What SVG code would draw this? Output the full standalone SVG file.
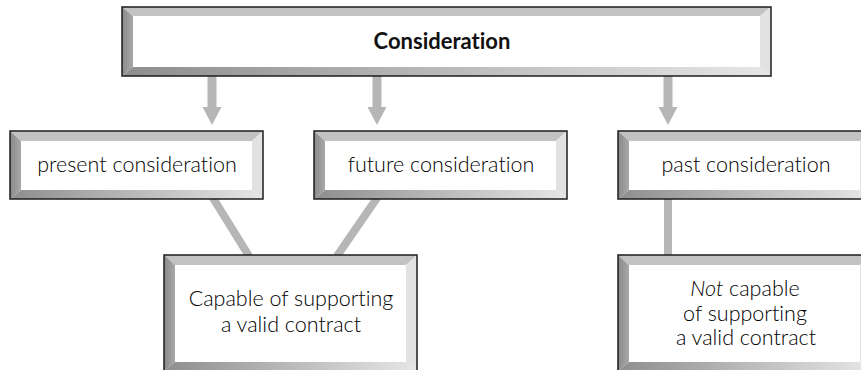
<svg xmlns="http://www.w3.org/2000/svg" width="861" height="370" viewBox="0 0 861 370">
  <defs>
    <linearGradient id="gBottom" x1="0" y1="0" x2="1" y2="0">
      <stop offset="0" stop-color="#8e8e8e"/>
      <stop offset="1" stop-color="#e6e6e6"/>
    </linearGradient>
    <linearGradient id="gLeft" x1="0" y1="0" x2="1" y2="0">
      <stop offset="0" stop-color="#8a8a8a"/>
      <stop offset="1" stop-color="#a8a8a8"/>
    </linearGradient>
  </defs>
  <style>
    .face { fill: #ffffff; }
    .top { fill: #c2c2c2; }
    .bot { fill: url(#gBottom); }
    .lft { fill: url(#gLeft); }
    .rgt { fill: #e2e2e2; }
    .edge { fill: none; stroke: #1c1c1c; stroke-width: 1.5; }
    .lbl { font-family: Lato, "Liberation Sans", sans-serif; font-size: 21.5px; font-weight: 300; fill: #000000; text-anchor: middle; font-variant-ligatures: none; }
    .title { font-weight: bold; font-size: 22px; fill: #111111; }
    .arrow { fill: #b6b6b6; }
    .link { stroke: #b6b6b6; stroke-width: 8; fill: none; }
  </style>

  <!-- connectors sit underneath the boxes -->
  <g id="connectors">
    <polygon class="arrow" points="207.5,76 216.5,76 216.5,107 221.5,107 212,125 202.5,107 207.5,107"/>
    <polygon class="arrow" points="372.5,76 381.5,76 381.5,107 386.5,107 377,125 367.5,107 372.5,107"/>
    <polygon class="arrow" points="663.5,76 672.5,76 672.5,107 677.5,107 668,125 658.5,107 663.5,107"/>
    <line class="link" x1="213" y1="198" x2="249" y2="256"/>
    <line class="link" x1="377" y1="198" x2="337" y2="256"/>
    <line class="link" x1="668" y1="198" x2="668" y2="256"/>
  </g>

  <!-- Consideration -->
  <g id="consideration">
    <rect class="face" x="122" y="7" width="649" height="69"/>
    <polygon class="top" points="122,7 771,7 760,16 133,16"/>
    <polygon class="bot" points="122,76 771,76 760,67 133,67"/>
    <polygon class="lft" points="122,7 133,16 133,67 122,76"/>
    <polygon class="rgt" points="771,7 760,16 760,67 771,76"/>
    <rect class="edge" x="122" y="7" width="649" height="69"/>
    <text class="lbl title" x="442" y="49">Consideration</text>
  </g>

  <!-- present consideration -->
  <g id="present">
    <rect class="face" x="10" y="131" width="253" height="68"/>
    <polygon class="top" points="10,131 263,131 252,141 21,141"/>
    <polygon class="bot" points="10,199 263,199 252,190 21,190"/>
    <polygon class="lft" points="10,131 21,141 21,190 10,199"/>
    <polygon class="rgt" points="263,131 252,141 252,190 263,199"/>
    <rect class="edge" x="10" y="131" width="253" height="68"/>
    <text class="lbl" x="137" y="172">present consideration</text>
  </g>

  <!-- future consideration -->
  <g id="future">
    <rect class="face" x="314" y="131" width="253" height="68"/>
    <polygon class="top" points="314,131 567,131 556,141 325,141"/>
    <polygon class="bot" points="314,199 567,199 556,190 325,190"/>
    <polygon class="lft" points="314,131 325,141 325,190 314,199"/>
    <polygon class="rgt" points="567,131 556,141 556,190 567,199"/>
    <rect class="edge" x="314" y="131" width="253" height="68"/>
    <text class="lbl" x="441" y="172">future consideration</text>
  </g>

  <!-- past consideration -->
  <g id="past">
    <rect class="face" x="618" y="131" width="253" height="68"/>
    <polygon class="top" points="618,131 871,131 860,141 629,141"/>
    <polygon class="bot" points="618,199 871,199 860,190 629,190"/>
    <polygon class="lft" points="618,131 629,141 629,190 618,199"/>
    <polygon class="rgt" points="871,131 860,141 860,190 871,199"/>
    <rect class="edge" x="618" y="131" width="253" height="68"/>
    <text class="lbl" x="746" y="172">past consideration</text>
  </g>

  <!-- Capable of supporting a valid contract -->
  <g id="capable">
    <rect class="face" x="164" y="255" width="253" height="116"/>
    <polygon class="top" points="164,255 417,255 406,265 175,265"/>
    <polygon class="bot" points="164,371 417,371 406,362 175,362"/>
    <polygon class="lft" points="164,255 175,265 175,362 164,371"/>
    <polygon class="rgt" points="417,255 406,265 406,362 417,371"/>
    <rect class="edge" x="164" y="255" width="253" height="116"/>
    <text class="lbl" x="291" y="306">Capable of supporting</text>
    <text class="lbl" x="291" y="332">a valid contract</text>
  </g>

  <!-- Not capable of supporting a valid contract -->
  <g id="not-capable">
    <rect class="face" x="618" y="255" width="253" height="116"/>
    <polygon class="top" points="618,255 871,255 860,265 629,265"/>
    <polygon class="bot" points="618,371 871,371 860,362 629,362"/>
    <polygon class="lft" points="618,255 629,265 629,362 618,371"/>
    <polygon class="rgt" points="871,255 860,265 860,362 871,371"/>
    <rect class="edge" x="618" y="255" width="253" height="116"/>
    <text class="lbl" x="745" y="296"><tspan font-style="italic">Not</tspan> capable</text>
    <text class="lbl" x="745" y="321">of supporting</text>
    <text class="lbl" x="746" y="345">a valid contract</text>
  </g>
</svg>
